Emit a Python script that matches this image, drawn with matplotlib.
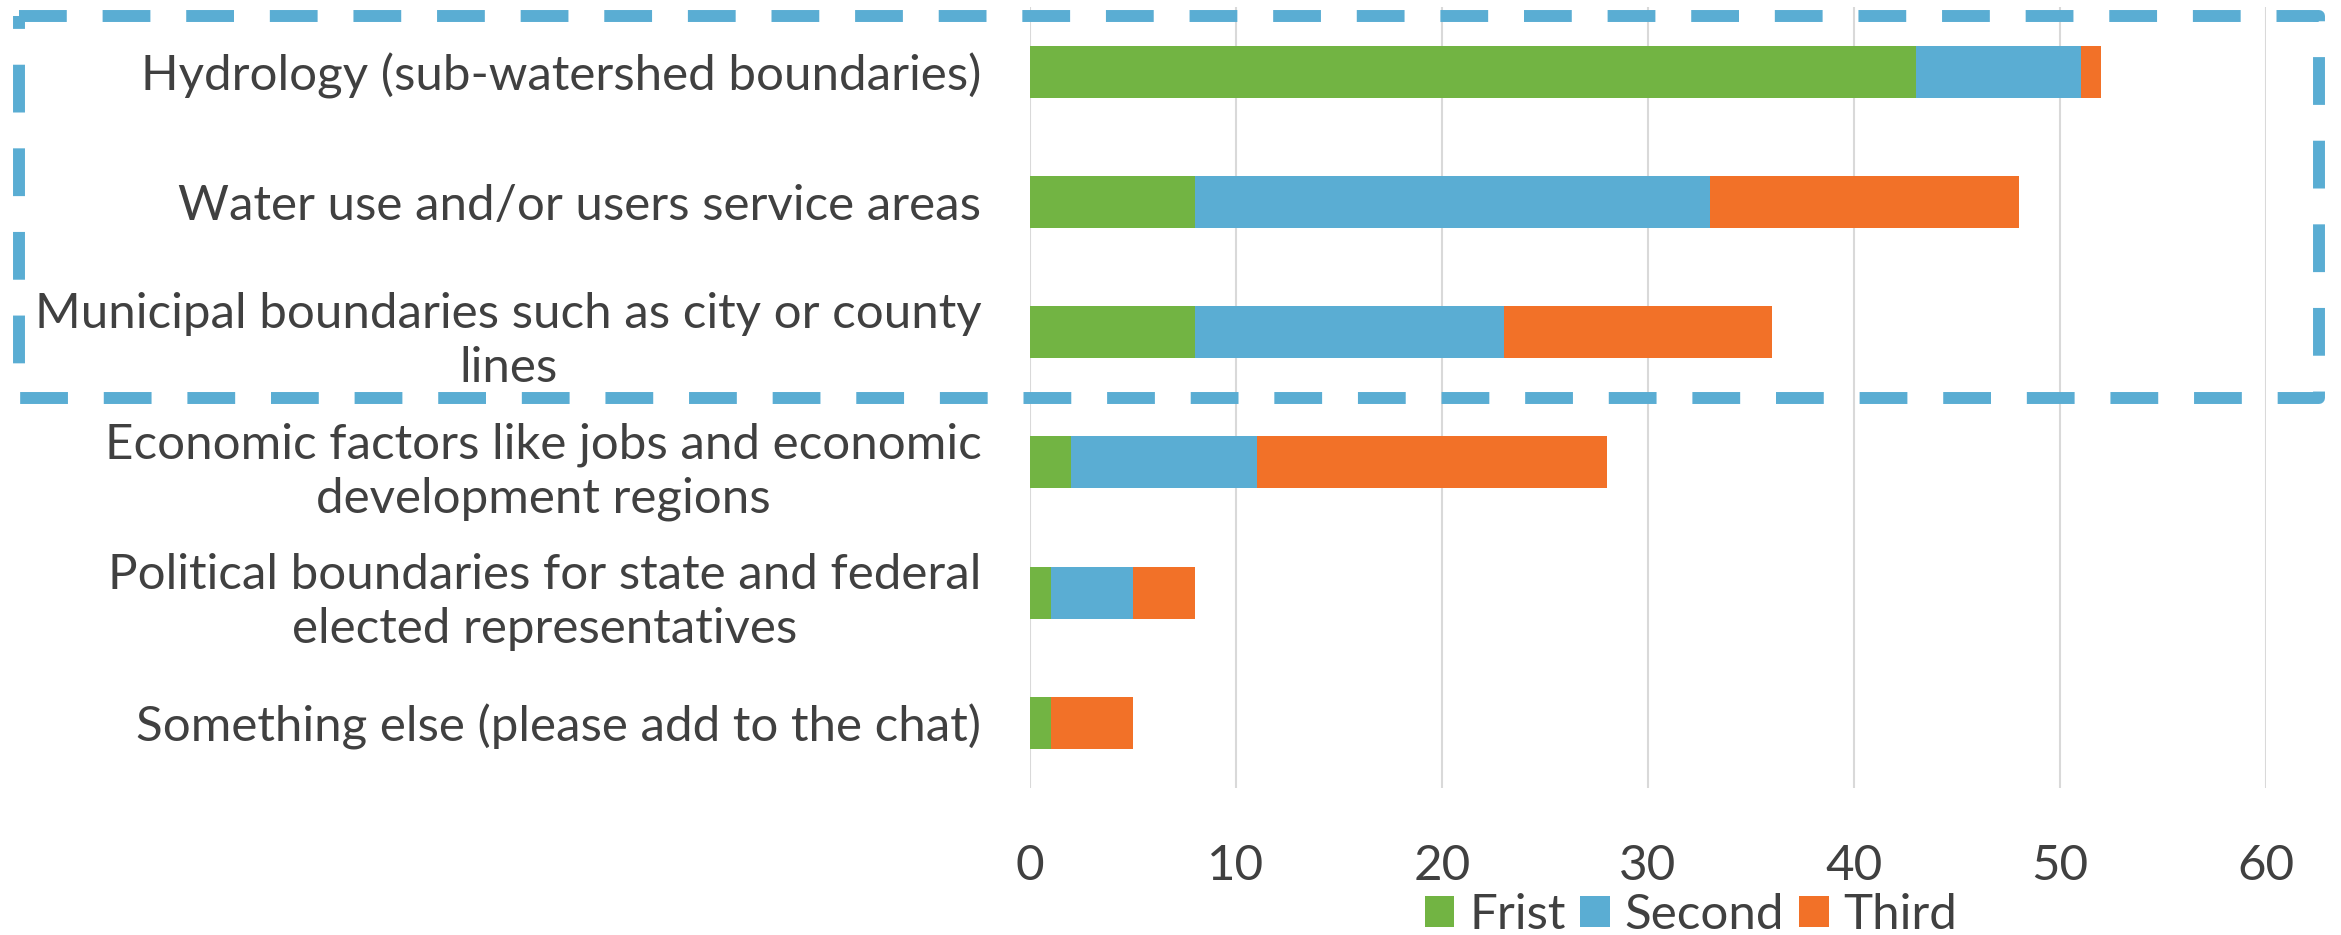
import matplotlib.pyplot as plt
from matplotlib.lines import Line2D

# Data
categories = ['Hydrology (sub-watershed boundaries)',
              'Water use and/or users service areas',
              'Municipal boundaries such as city or county\nlines',
              'Economic factors like jobs and economic\ndevelopment regions',
              'Political boundaries for state and federal\nelected representatives',
              'Something else (please add to the chat)']
first = [43, 8, 8, 2, 1, 1]
second = [8, 25, 15, 9, 4, 0]
third = [1, 15, 13, 17, 3, 4]
series_names = ['Frist', 'Second', 'Third']
x_ticks = [0, 10, 20, 30, 40, 50, 60]

colors = ['#72B443', '#5AADD3', '#F27128']
text_color = '#404040'

plt.rcParams['font.family'] = ['Lato', 'DejaVu Sans']

W, H = 2341, 935
fig = plt.figure(figsize=(W / 100, H / 100), dpi=100)
ax = fig.add_axes([1030 / W, 1 - 788 / H, (2266 - 1030) / W, (788 - 6.6) / H])

y = list(range(len(categories)))
left = [0] * len(categories)
for vals, name, c in zip([first, second, third], series_names, colors):
    ax.barh(y, vals, left=left, height=0.4, color=c, label=name, zorder=3)
    left = [a + b for a, b in zip(left, vals)]

ax.set_ylim(len(categories) - 0.5, -0.5)
ax.set_xlim(0, 60)
ax.set_xticks(x_ticks)
ax.set_yticks(y)
ax.set_yticklabels(categories)
for lbl in ax.get_yticklabels():
    lbl.set_multialignment('center')
    lbl.set_linespacing(1.28)

ax.tick_params(axis='both', length=0, labelsize=35.5, labelcolor=text_color)
ax.tick_params(axis='y', pad=35)
ax.tick_params(axis='x', pad=40)
ax.grid(axis='x', color='#D9D9D9', linewidth=1.5, zorder=0)
for s in ax.spines.values():
    s.set_visible(False)

fig.legend(loc='center', bbox_to_anchor=(1691 / W, 1 - 915 / H), ncol=3,
           frameon=False, fontsize=35.5, labelcolor=text_color,
           handlelength=0.6, handleheight=0.6, handletextpad=0.3,
           columnspacing=0.3)

# dashed highlight box round the top three categories
bx0, bx1, by0, by1 = 19 / W, 2319 / W, 1 - 16 / H, 1 - 398 / H
box = Line2D([bx0, bx1, bx1, bx0, bx0], [by0, by0, by1, by1, by0],
             transform=fig.transFigure, color='#5AADD3', linewidth=8.6,
             linestyle=(0, (4, 3)), solid_joinstyle='miter',
             dash_capstyle='butt')
fig.add_artist(box)

plt.savefig('out.png', dpi=100)
plt.close()
